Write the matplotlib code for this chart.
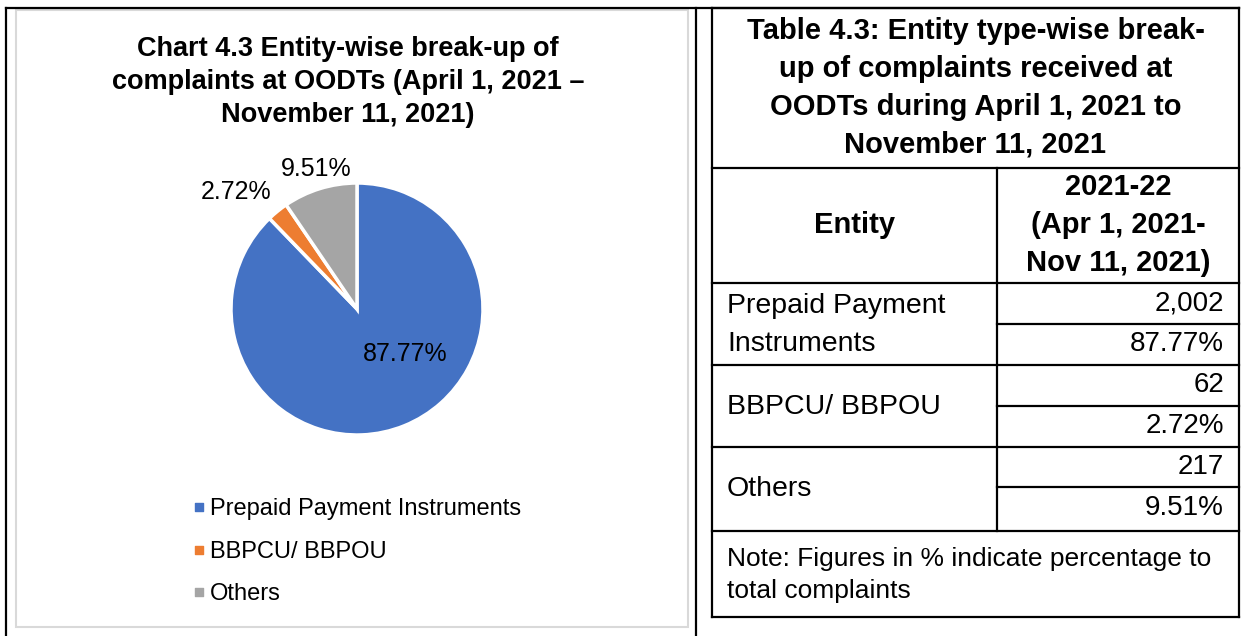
import matplotlib.pyplot as plt
from matplotlib.patches import Rectangle

plt.rcParams['font.family'] = ['Liberation Sans', 'DejaVu Sans']

entities = ['Prepaid Payment Instruments', 'BBPCU/ BBPOU', 'Others']
table_entities = ['Prepaid Payment\nInstruments', 'BBPCU/ BBPOU', 'Others']
counts = [2002, 62, 217]
shares = [87.77, 2.72, 9.51]
colors = ['#4472C4', '#ED7D31', '#A5A5A5']

chart_title = 'Chart 4.3 Entity-wise break-up of\ncomplaints at OODTs (April 1, 2021 \u2013\nNovember 11, 2021)'
table_title = 'Table 4.3: Entity type-wise break-\nup of complaints received at\nOODTs during April 1, 2021 to\nNovember 11, 2021'
col_header = '2021-22\n(Apr 1, 2021-\nNov 11, 2021)'
note = 'Note: Figures in % indicate percentage to\ntotal complaints'

W, H = 1248, 636
fig = plt.figure(figsize=(W / 100, H / 100), dpi=100)

# background axes in pixel coordinates
bg = fig.add_axes([0, 0, 1, 1])
bg.set_xlim(0, W)
bg.set_ylim(H, 0)
bg.axis('off')

lw = 1.6
# outer frame
bg.plot([6, 1239], [8, 8], color='black', lw=lw)
bg.plot([6, 6], [8, H], color='black', lw=lw)
bg.plot([696, 696], [8, H], color='black', lw=lw)
# chart area
bg.add_patch(Rectangle((16, 10), 672, 617, fill=False, edgecolor='#D9D9D9', lw=1.5))

# chart title
bg.text(348, 82, chart_title, ha='center', va='center', fontsize=19.5, fontweight='bold',
        linespacing=1.33)

# pie
cx, cy, r = 357, 309, 126
pax = fig.add_axes([(cx - r) / W, (H - cy - r) / H, 2 * r / W, 2 * r / H])
pax.pie(shares, colors=colors, startangle=90, counterclock=False, radius=1,
        wedgeprops=dict(edgecolor='white', linewidth=2.5))
pax.set_xlim(-1, 1)
pax.set_ylim(-1, 1)
label_pos = [(0.38, -0.36), (-0.96, 0.93), (-0.32, 1.11)]
for s, (lx, ly) in zip(shares, label_pos):
    pax.text(lx, ly, f'{s:.2f}%', ha='center', va='center', fontsize=18)

# legend
leg_y = [507, 550, 592]
for name, c, ly in zip(entities, colors, leg_y):
    bg.scatter(199, ly, marker='s', s=40, color=c)
    bg.text(210, ly + 2, name, ha='left', va='center', fontsize=17)

# table
tl, tr, tc = 712, 1239, 997
hlines = [8, 168, 283, 365, 447, 531, 617]
for y in hlines:
    bg.plot([tl, tr], [y, y], color='black', lw=lw)
for y in [324, 406, 487]:
    bg.plot([tc, tr], [y, y], color='black', lw=lw)
bg.plot([tl, tl], [8, 617], color='black', lw=lw)
bg.plot([tr, tr], [8, 617], color='black', lw=lw)
bg.plot([tc, tc], [168, 531], color='black', lw=lw)

bg.text((tl + tr) / 2, 88, table_title, ha='center', va='center', fontsize=21,
        fontweight='bold', linespacing=1.45)
bg.text((tl + tc) / 2, 225, 'Entity', ha='center', va='center', fontsize=21, fontweight='bold')
bg.text((tc + tr) / 2, 225, col_header, ha='center', va='center', fontsize=21,
        fontweight='bold', linespacing=1.45)

row_top = [283, 365, 447]
for name, n, s, y0 in zip(table_entities, counts, shares, row_top):
    bg.text(727, y0 + 42, name, ha='left', va='center', fontsize=20.5, linespacing=1.6)
    bg.text(1224, y0 + 20, f'{n:,}', ha='right', va='center', fontsize=20)
    bg.text(1224, y0 + 61, f'{s:.2f}%', ha='right', va='center', fontsize=20)

bg.text(727, 575, note, ha='left', va='center', fontsize=19, linespacing=1.39)

fig.savefig('out.png', dpi=100)
